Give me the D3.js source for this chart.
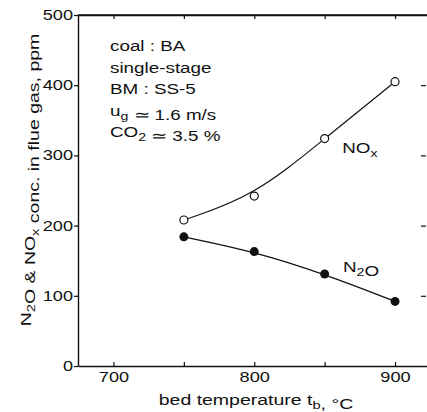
<!DOCTYPE html>
<html>
<head>
<meta charset="utf-8">
<script src="https://cdn.jsdelivr.net/npm/d3@7"></script>
<style>
	body { margin: 0; background: #fff; }
	text { font-family: "Liberation Sans", Arial, sans-serif; fill: #111; }
</style>
</head>
<body>
<svg id="chart" width="427" height="412"></svg>
<script>
var temps = [750, 800, 850, 900];
var noxValues = [208, 242, 324, 405];
var n2oValues = [184, 163, 131, 92];
var xTickLabels = [700, 800, 900];
var xAllTicks = [700, 750, 800, 850, 900];
var yTickLabels = [0, 100, 200, 300, 400, 500];
var yRightTicks = [100, 200, 300, 400];
var conditions = [
	[["coal : BA"]],
	[["single-stage"]],
	[["BM : SS-5"]],
	[["u"], ["g", 1], [" \u2243 1.6 m/s"]],
	[["CO"], ["2", 1], [" \u2243 3.5 %"]]
];

var sx = 1.3; // the original lettering is wide
var margin = {top: 15, right: 0, bottom: 46, left: 78},
	width = 427 - margin.left - margin.right,
	height = 412 - margin.top - margin.bottom;

var x = d3.scaleLinear().domain([674.8, 922.7]).range([0, width]),
	y = d3.scaleLinear().domain([0, 500]).range([height, 0]);

var svg = d3.select("#chart");
var g = svg.append("g")
	.attr("transform", "translate(" + margin.left + "," + margin.top + ")");

function addText(parent, px, py, parts, size, anchor, rotate) {
	var t = parent.append("text")
		.attr("transform", "translate(" + px + "," + py + ")" + (rotate ? " rotate(-90)" : "") + " scale(" + sx + ",1)")
		.attr("text-anchor", anchor || "start")
		.style("font-size", size + "px");
	parts.forEach(function(p) {
		var s = t.append("tspan").text(p[0]);
		if (p[1]) {
			s.attr("dy", 4).style("font-size", (size * 0.75) + "px");
			t.append("tspan").attr("dy", -4).text("");
		}
	});
	return t;
}

// frame top
g.append("line").attr("x1", 0).attr("x2", width).attr("y1", 0).attr("y2", 0)
	.attr("stroke", "#111").attr("stroke-width", 1.4);

g.append("g")
	.attr("class", "axis axis--x")
	.attr("transform", "translate(0," + height + ")")
	.call(d3.axisBottom(x).tickValues(xAllTicks).tickSize(-4).tickPadding(6).tickSizeOuter(0)
		.tickFormat(function(d) { return xTickLabels.indexOf(d) >= 0 ? d : ""; }));

g.append("g")
	.attr("class", "axis axis--top")
	.call(d3.axisTop(x).tickValues(xAllTicks).tickSize(-4).tickFormat("").tickSizeOuter(0));

g.append("g")
	.attr("class", "axis axis--y")
	.call(d3.axisLeft(y).tickValues(yTickLabels).tickSize(4).tickPadding(1).tickSizeOuter(0));

var right = g.append("g")
	.attr("class", "axis axis--right")
	.attr("transform", "translate(" + (width - 1) + ",0)")
	.call(d3.axisRight(y).tickValues(yRightTicks).tickSize(-5).tickFormat("").tickSizeOuter(0));
right.select(".domain").remove();

g.selectAll(".axis .domain").attr("stroke", "#111").attr("stroke-width", 1.4);
g.selectAll(".axis line").attr("stroke", "#111").attr("stroke-width", 1.2);
g.selectAll(".axis text")
	.style("font-family", "'Liberation Sans', Arial, sans-serif")
	.style("font-size", "14px")
	.attr("fill", "#111")
	.attr("transform", "scale(" + sx + ",1)")
	.attr("x", function() { return +d3.select(this).attr("x") / sx; });

// curves
var line = d3.line()
	.x(function(d) { return x(d[0]); })
	.y(function(d) { return y(d[1]); })
	.curve(d3.curveBasis);

var noxPts = temps.map(function(t, i) { return [t, noxValues[i]]; });
var n2oPts = temps.map(function(t, i) { return [t, n2oValues[i]]; });

g.append("path").datum(noxPts).attr("d", line)
	.attr("fill", "none").attr("stroke", "#111").attr("stroke-width", 1.2);
g.append("path").datum(n2oPts).attr("d", line)
	.attr("fill", "none").attr("stroke", "#111").attr("stroke-width", 1.2);

g.selectAll(".nox").data(noxPts).enter().append("circle")
	.attr("class", "nox")
	.attr("cx", function(d) { return x(d[0]); })
	.attr("cy", function(d) { return y(d[1]); })
	.attr("r", 4)
	.attr("fill", "#fff").attr("stroke", "#111").attr("stroke-width", 1.2);

g.selectAll(".n2o").data(n2oPts).enter().append("circle")
	.attr("class", "n2o")
	.attr("cx", function(d) { return x(d[0]); })
	.attr("cy", function(d) { return y(d[1]); })
	.attr("r", 4.5)
	.attr("fill", "#111");

// series labels
addText(g, x(862.5), y(304), [["NO"], ["x", 1]], 14.5);
addText(g, x(863), y(134), [["N"], ["2", 1], ["O"]], 14.5);

// conditions block
conditions.forEach(function(parts, i) {
	addText(g, 32, 36 + i * 21.5, parts, 14.5);
});

// axis titles
addText(svg, 256, 405, [["bed temperature t"], ["b", 1], [", \u00b0C"]], 15, "middle");
addText(svg, 31, 180, [["N"], ["2", 1], ["O & NO"], ["x", 1], [" conc. in flue gas, ppm"]], 15, "middle", true);
</script>
</body>
</html>
